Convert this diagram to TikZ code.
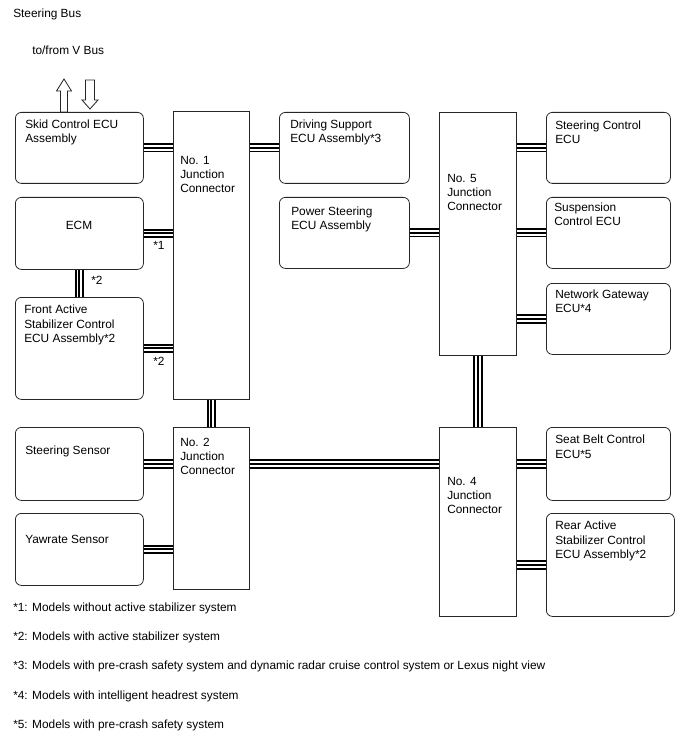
\documentclass[tikz,border=0pt]{standalone}
\usepackage{fontspec}
\setmainfont{Liberation Sans}
\usetikzlibrary{positioning}

\tikzset{
  unit/.style={draw=black!85, line width=0.6pt, rounded corners=4.5pt, anchor=north west, inner sep=0pt, minimum width=96pt},
  junc/.style={draw=black!85, line width=0.6pt, anchor=north west, inner sep=0pt, minimum width=57pt},
  lbl/.style={anchor=north west, inner sep=0pt, align=left, font=\fontsize{8.9}{10.6}\selectfont},
  bus/.style={draw=white, line width=4.1pt, preaction={draw=black, line width=6.9pt}, postaction={draw=black, line width=1.6pt}},
  hollow/.style={draw=black!85, line width=0.6pt, fill=white, line join=miter}
}

\begin{document}
\begin{tikzpicture}[x=0.75pt,y=-0.75pt]
\useasboundingbox (0,0) rectangle (688,755);

% titles
\node[lbl] (title) at (13,9) {Steering Bus};
\node[lbl] (vbus) at (32,46) {to/from V Bus};

% left column
\node[unit, minimum height=53.25pt] (skid) at (15,112) {};
\node[unit, minimum height=54pt] (ecm) at (15,197) {};
\node[unit, minimum height=76.5pt] (front) at (15,297) {};
\node[unit, minimum height=54.75pt] (ssens) at (15,427) {};
\node[unit, minimum height=54pt] (yaw) at (15,513) {};

% junction connectors
\node[junc, minimum height=216pt] (jc1) at (173,111) {};
\node[junc, minimum height=121.5pt] (jc2) at (173,427) {};
\node[junc, minimum height=182.25pt, minimum width=57.75pt] (jc5) at (439,112) {};
\node[junc, minimum height=141.75pt, minimum width=57.75pt] (jc4) at (439,427) {};

% middle column
\node[unit, minimum width=97.5pt, minimum height=53.25pt] (drive) at (279,112) {};
\node[unit, minimum width=97.5pt, minimum height=53.25pt] (psteer) at (279,197) {};

% right column
\node[unit, minimum width=93pt, minimum height=53.25pt] (sctrl) at (546,112) {};
\node[unit, minimum width=93pt, minimum height=53.25pt] (susp) at (546,197) {};
\node[unit, minimum width=93pt, minimum height=53.25pt] (ngw) at (546,283) {};
\node[unit, minimum width=93pt, minimum height=54.75pt] (seat) at (546,427) {};
\node[unit, minimum width=96pt, minimum height=77.25pt] (rear) at (546,513) {};

% box texts
\node[lbl] (skidt) at (25,120) {Skid Control ECU\\Assembly};
\node[lbl, anchor=north] (ecmt) at (79,221) {ECM};
\node[lbl] (frontt) at (24,305) {Front Active\\Stabilizer Control\\ECU Assembly*2};
\node[lbl] (ssenst) at (25,446) {Steering Sensor};
\node[lbl] (yawt) at (25,535) {Yawrate Sensor};
\node[lbl] (jc1t) at (180,156) {No. 1\\Junction\\Connector};
\node[lbl] (jc2t) at (180,438) {No. 2\\Junction\\Connector};
\node[lbl] (jc5t) at (447,174) {No. 5\\Junction\\Connector};
\node[lbl] (jc4t) at (447,477) {No. 4\\Junction\\Connector};
\node[lbl] (drivet) at (290,120) {Driving Support\\ECU Assembly*3};
\node[lbl] (psteert) at (291,207) {Power Steering\\ECU Assembly};
\node[lbl] (sctrlt) at (555,121) {Steering Control\\ECU};
\node[lbl] (suspt) at (554,203) {Suspension\\Control ECU};
\node[lbl] (ngwt) at (555,290) {Network Gateway\\ECU*4};
\node[lbl] (seatt) at (555,435) {Seat Belt Control\\ECU*5};
\node[lbl] (reart) at (555,521) {Rear Active\\Stabilizer Control\\ECU Assembly*2};

% to/from V Bus arrows
\draw[hollow] (60.5,112) -- (60.5,91) -- (56.5,91) -- (64,79) -- (71.5,91) -- (67.5,91) -- (67.5,112) -- cycle;
\draw[hollow] (85.5,80) -- (85.5,100) -- (82,100) -- (90,109) -- (98,100) -- (94.5,100) -- (94.5,80) -- cycle;

% bus lines
\draw[bus] (skid.east) -- (skid.east -| jc1.west);
\draw[bus] (ecm.east) -- (ecm.east -| jc1.west);
\draw[bus] (front.east) -- (front.east -| jc1.west);
\draw[bus] (ecm.south) -- (front.north);
\draw[bus] (jc1.south) -- (jc2.north);
\draw[bus] (ssens.east) -- (ssens.east -| jc2.west);
\draw[bus] (yaw.east) -- (yaw.east -| jc2.west);
\draw[bus] (ssens.east -| jc2.east) -- (ssens.east -| jc4.west);
\draw[bus] (drive.west -| jc1.east) -- (drive.west);
\draw[bus] (psteer.east) -- (psteer.east -| jc5.west);
\draw[bus] (jc5.south) -- (jc4.north);
\draw[bus] (sctrl.west -| jc5.east) -- (sctrl.west);
\draw[bus] (susp.west -| jc5.east) -- (susp.west);
\draw[bus] (ngw.west -| jc5.east) -- (ngw.west);
\draw[bus] (seat.west -| jc4.east) -- (seat.west);
\draw[bus] (rear.west -| jc4.east) -- (rear.west);

% option marks
\node[lbl] (m1) at (153,241) {*1};
\node[lbl] (m2a) at (91,276) {*2};
\node[lbl] (m2b) at (153,357) {*2};

% footnotes
\node[lbl] (n1) at (13,603) {*1: Models without active stabilizer system};
\node[lbl] (n2) at (13,632) {*2: Models with active stabilizer system};
\node[lbl] (n3) at (13,661) {*3: Models with pre-crash safety system and dynamic radar cruise control system or Lexus night view};
\node[lbl] (n4) at (13,691) {*4: Models with intelligent headrest system};
\node[lbl] (n5) at (13,720) {*5: Models with pre-crash safety system};
\end{tikzpicture}
\end{document}
